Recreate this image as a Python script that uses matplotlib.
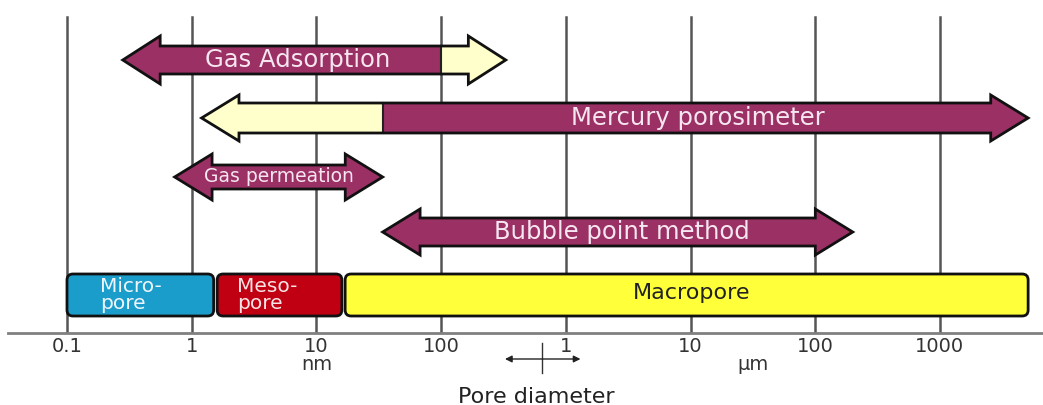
import numpy as np
import matplotlib
matplotlib.use("Agg")
import matplotlib.pyplot as plt
from matplotlib.patches import Polygon, Rectangle, FancyBboxPatch

plt.rcParams['font.family'] = ['DejaVu Sans']

# pore diameter axis, everything in nm
tick_nm = [0.1, 1, 10, 100, 1000, 1e4, 1e5, 1e6]
tick_labels = ["0.1", "1", "10", "100", "1", "10", "100", "1000"]

# measuring methods: name, left end, right end, colour split (nm)
methods = ["Gas Adsorption", "Mercury porosimeter", "Gas permeation", "Bubble point method"]
method_lo = [0.28, 1.2, 0.73, 34]
method_hi = [330, 5.1e6, 34, 2.0e5]
method_split = [100, 34, None, None]
left_col = ["#9b3064", "#ffffcc", "#9b3064", "#9b3064"]
right_col = ["#ffffcc", "#9b3064", "#9b3064", "#9b3064"]

# pore classes
pores = ["Micro-\npore", "Meso-\npore", "Macropore"]
pore_lo = [0.1, 1.6, 17]
pore_hi = [1.5, 16, 5.1e6]
pore_col = ["#1b9dcb", "#c00012", "#ffff3a"]
pore_txt = ["#eef6fb", "#f8e4e4", "#222222"]

purple_txt = "#f6e6f0"
decade = 124.7  # px per decade

fig = plt.figure(figsize=(10.43, 4.05), dpi=100)
ax = fig.add_axes([8 / 1043, 72 / 405, 1035 / 1043, 333 / 405])
ax.set_xlim(-1 - 59 / decade, -1 + 976 / decade)
ax.set_ylim(0, 333)

for s in ["top", "right", "left"]:
    ax.spines[s].set_visible(False)
ax.spines["bottom"].set_color("#808080")
ax.spines["bottom"].set_linewidth(2)
ax.set_yticks([])
ax.set_xticks(np.log10(tick_nm))
ax.set_xticklabels(tick_labels, fontsize=14, color="#333333")
ax.tick_params(axis="x", length=0, pad=3)

for t in np.log10(tick_nm):
    ax.plot([t, t], [0, 316], color="#555555", lw=1.8, zorder=1)

rows_y = [273, 215, 156, 101]
shaft = [14, 15, 12, 14]
head = [24, 23, 23, 23]
hl = 0.3

for i, name in enumerate(methods):
    L = np.log10(method_lo[i])
    R = np.log10(method_hi[i])
    yc = rows_y[i]
    sh, hh = shaft[i], head[i]
    verts = [(L, yc), (L + hl, yc + hh), (L + hl, yc + sh), (R - hl, yc + sh),
             (R - hl, yc + hh), (R, yc), (R - hl, yc - hh), (R - hl, yc - sh),
             (L + hl, yc - sh), (L + hl, yc - hh)]
    body = Polygon(verts, closed=True, facecolor=left_col[i], edgecolor="none", zorder=3)
    ax.add_patch(body)
    if method_split[i] is not None:
        S = np.log10(method_split[i])
        r = Rectangle((S, yc - hh - 2), R - S + 0.1, 2 * hh + 4,
                      facecolor=right_col[i], edgecolor="none", zorder=3)
        ax.add_patch(r)
        r.set_clip_path(body)
        ax.plot([S, S], [yc - sh, yc + sh], color="#222222", lw=1.5, zorder=4)
    ax.add_patch(Polygon(verts, closed=True, fill=False, edgecolor="#111111",
                         lw=2, joinstyle="miter", zorder=4))

ax.text(np.log10(7.1), rows_y[0], methods[0], color=purple_txt, fontsize=17.5,
        ha="center", va="center", zorder=5)
ax.text(np.log10(1.15e4), rows_y[1], methods[1], color=purple_txt, fontsize=17.5,
        ha="center", va="center", zorder=5)
ax.text(np.log10(5.0), rows_y[2], methods[2], color=purple_txt, fontsize=13.5,
        ha="center", va="center", zorder=5)
ax.text(np.log10(2.8e3), rows_y[3], methods[3], color=purple_txt, fontsize=17.5,
        ha="center", va="center", zorder=5)

# pore class boxes
rr = 6 / decade
for i, name in enumerate(pores):
    x0 = np.log10(pore_lo[i])
    x1 = np.log10(pore_hi[i])
    box = FancyBboxPatch((x0 + rr, 17 + 6), x1 - x0 - 2 * rr, 42 - 12,
                         boxstyle="round,pad=%f" % rr, mutation_aspect=decade,
                         facecolor=pore_col[i], edgecolor="#111111", lw=2, zorder=3)
    ax.add_patch(box)
ax.text(np.log10(pore_lo[0]) + 0.265, 38, pores[0], color=pore_txt[0],
        fontsize=14.5, ha="left", va="center", linespacing=0.88, zorder=5)
ax.text(np.log10(pore_lo[1]) + 0.16, 38, pores[1], color=pore_txt[1],
        fontsize=14.5, ha="left", va="center", linespacing=0.88, zorder=5)
ax.text(np.log10(1.02e4), 40, pores[2], color=pore_txt[2], fontsize=16,
        ha="center", va="center", zorder=5)

# units and axis title
ax.text(np.log10(10), -32, "nm", fontsize=14, color="#333333", ha="center", va="center")
ax.text(np.log10(3.2e4), -32, "µm", fontsize=14, color="#333333", ha="center", va="center")
ax.text(np.log10(575), -64, "Pore diameter", fontsize=16, color="#222222",
        ha="center", va="center")

# nm <-> µm marker
cx = 2.81
ax.annotate("", xy=(cx - 0.32, -26), xytext=(cx + 0.33, -26),
            arrowprops=dict(arrowstyle="<|-|>", color="#222222", lw=1, mutation_scale=10),
            annotation_clip=False)
ax.plot([cx, cx], [-10, -40], color="#333333", lw=1, clip_on=False)

fig.savefig("out.png", dpi=100)
